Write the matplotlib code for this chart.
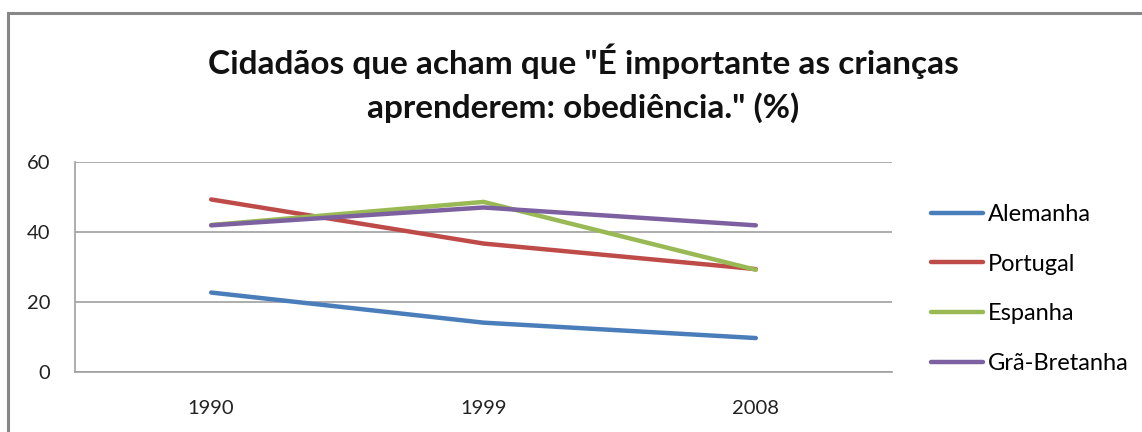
import matplotlib.pyplot as plt
from matplotlib.patches import Rectangle

years = ["1990", "1999", "2008"]
alemanha = [22.7, 14.1, 9.7]
portugal = [49.3, 36.7, 29.4]
espanha = [42.0, 48.6, 29.2]
gra_bretanha = [41.9, 47.0, 41.9]

series = [
    ("Alemanha", alemanha, "#4a7ebb"),
    ("Portugal", portugal, "#be4b48"),
    ("Espanha", espanha, "#98b954"),
    ("Grã-Bretanha", gra_bretanha, "#7d60a0"),
]

plt.rcParams['font.family'] = ['Lato', 'DejaVu Sans']

fig = plt.figure(figsize=(11.42, 4.32), dpi=100)
# outer chart frame
fig.patches.append(Rectangle((8 / 1142, -0.05), 1.2, (432 - 13) / 432 + 0.05,
                             transform=fig.transFigure, fill=False,
                             edgecolor="#878787", lw=2.2))

ax = fig.add_axes([75 / 1142, 1 - 372 / 432, 817 / 1142, 210 / 432])
x = [0.5, 1.5, 2.5]
for name, vals, col in series:
    ax.plot(x, vals, color=col, lw=3.2, label=name, solid_capstyle="round")

ax.set_xlim(0, 3)
ax.set_ylim(0, 60)
ax.set_yticks([0, 20, 40, 60])
ax.set_xticks(x)
ax.set_xticklabels(years)
ax.tick_params(length=0, labelsize=14.5, colors="#222222")
ax.tick_params(axis="y", pad=18)
ax.tick_params(axis="x", pad=20)
ax.grid(axis="y", color="#a0a0a0", lw=1.2)
ax.set_axisbelow(True)
for s in ["top", "right"]:
    ax.spines[s].set_visible(False)
ax.spines["left"].set_color("#a0a0a0")
ax.spines["bottom"].set_color("#a0a0a0")
ax.spines["left"].set_linewidth(1.2)
ax.spines["bottom"].set_linewidth(1.2)

fig.text(583 / 1142, 1 - 83 / 432,
         "Cidadãos que acham que \"É importante as crianças\naprenderem: obediência.\" (%)",
         ha="center", va="center", fontsize=24, fontweight="bold",
         linespacing=1.5, color="#111111")

ax.legend(loc="center left", bbox_to_anchor=(910 / 1142, 1 - 289 / 432),
          bbox_transform=fig.transFigure, frameon=False, fontsize=17,
          handlelength=2.2, handletextpad=0.2, labelspacing=1.22)

fig.savefig("out.png", dpi=100)
